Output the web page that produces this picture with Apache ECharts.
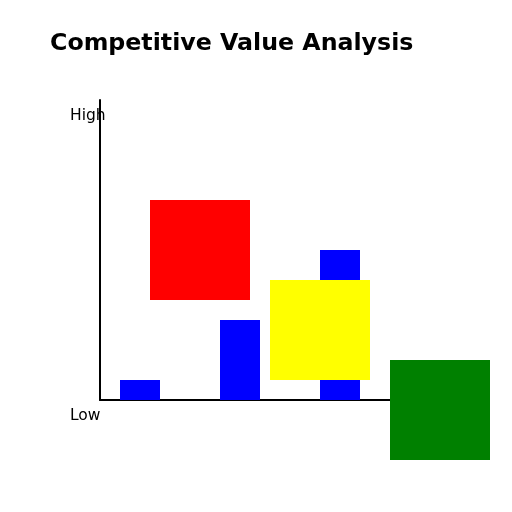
<!DOCTYPE html>
<html><head><meta charset="utf-8">
<script src="https://cdn.jsdelivr.net/npm/echarts@6/dist/echarts.min.js"></script>
<style>html,body{margin:0;padding:0;background:#fff}#c{width:512px;height:512px}</style>
</head><body><div id="c"></div>
<script>
const title = 'Competitive Value Analysis';
const yTickLabels = ['Low', 'High'];
// blue bars: [xStart, xEnd, height]
const barStarts = [20, 120, 220];
const barEnds = [60, 160, 260];
const barHeights = [20, 80, 150];
// rectangles: [x0, x1, y0, y1]
const rectNames = ['red', 'yellow', 'green'];
const rectX0 = [50, 170, 290];
const rectX1 = [150, 270, 390];
const rectY0 = [100, 20, -60];
const rectY1 = [200, 120, 40];
const rectColors = ['#ff0000', '#ffff00', '#008000'];

const barData = barStarts.map((s, i) => [s, barEnds[i], 0, barHeights[i]]);
const rectData = rectX0.map((x, i) => [x, rectX1[i], rectY0[i], rectY1[i], i]);

function rectItem(params, api, color) {
  const p0 = api.coord([api.value(0), api.value(3)]);
  const p1 = api.coord([api.value(1), api.value(2)]);
  return {type: 'rect', shape: {x: p0[0], y: p0[1], width: p1[0] - p0[0], height: p1[1] - p0[1]},
    style: {fill: color}};
}

const chart = echarts.init(document.getElementById('c'));
chart.setOption({
  animation: false,
  title: {text: title, left: 50, top: 32, padding: 0, textStyle: {fontFamily: 'DejaVu Sans', fontWeight: 'bold', fontSize: 23.7, color: '#000'}},
  grid: {left: 100, top: 100, width: 300, height: 300},
  xAxis: {type: 'value', min: 0, max: 300, axisLine: {onZero: false, lineStyle: {color: '#000', width: 2}},
    axisTick: {show: false}, axisLabel: {show: false}, splitLine: {show: false}},
  yAxis: {type: 'value', min: 0, max: 300, interval: 300,
    axisLine: {show: true, lineStyle: {color: '#000', width: 2}},
    axisTick: {show: false}, splitLine: {show: false},
    axisLabel: {show: true, formatter: v => v === 0 ? yTickLabels[0] : yTickLabels[1],
      align: 'left', margin: 30, verticalAlign: 'top', padding: [8, 0, 0, 0],
      fontFamily: 'DejaVu Sans', fontSize: 15.5, color: '#000'}},
  series: [
    {type: 'custom', clip: false, data: barData, z: 2,
      renderItem: (p, api) => rectItem(p, api, '#0000ff')},
    {type: 'custom', clip: false, data: rectData, z: 3,
      renderItem: (p, api) => rectItem(p, api, rectColors[api.value(4)])}
  ]
});
</script></body></html>
